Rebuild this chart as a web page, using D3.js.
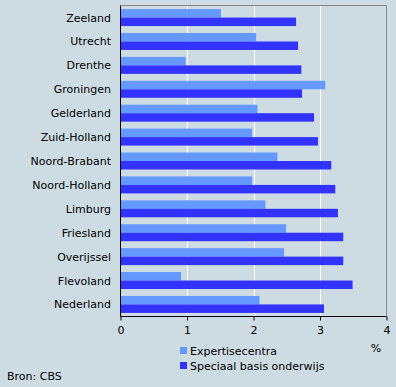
<!DOCTYPE html>
<html><head><meta charset="utf-8">
<script src="https://cdn.jsdelivr.net/npm/d3@7"></script>
<style>body{margin:0;background:#cddce2}svg{display:block}text{font-family:"DejaVu Sans",Verdana,sans-serif;font-size:11px;fill:#000}</style>
</head><body><svg id="c" width="396" height="387"></svg>
<script>
const categories=["Zeeland","Utrecht","Drenthe","Groningen","Gelderland","Zuid-Holland","Noord-Brabant","Noord-Holland","Limburg","Friesland","Overijssel","Flevoland","Nederland"];
const expertise=[1.51,2.04,0.98,3.08,2.06,1.98,2.36,1.98,2.18,2.49,2.46,0.91,2.09];
const speciaal=[2.64,2.67,2.72,2.73,2.91,2.97,3.17,3.23,3.27,3.35,3.35,3.49,3.06];
const seriesNames=["Expertisecentra","Speciaal basis onderwijs"];
const xTicks=[0,1,2,3,4];
const colors=["#6699ff","#3333ff"];

const svg=d3.select("#c");
const L=120.5,R=386.5,T=5.5,B=316.5;
svg.append("rect").attr("width",396).attr("height",387).attr("fill","#cddce2");
const x=d3.scaleLinear().domain([0,4]).range([L,R]);
const y=d3.scaleBand().domain(categories).range([T,B]).paddingInner(0.29).paddingOuter(0.15);
const sub=d3.scaleBand().domain([0,1]).range([0,y.bandwidth()]);
svg.append("g").selectAll("line").data(xTicks.slice(1,-1)).join("line")
 .attr("x1",d=>Math.round(x(d))+0.5).attr("x2",d=>Math.round(x(d))+0.5).attr("y1",T).attr("y2",B).attr("stroke","#fff").attr("stroke-width",1);
svg.append("path").attr("d",`M${L},${T}H${R}V${B}`).attr("fill","none").attr("stroke","#888");
const g=svg.append("g");
categories.forEach((c,i)=>{
 [expertise[i],speciaal[i]].forEach((v,j)=>{
  g.append("rect").attr("x",L).attr("y",y(c)+sub(j)).attr("width",x(v)-L).attr("height",sub.bandwidth()).attr("fill",colors[j]);
 });
});
svg.append("g").selectAll("text").data(categories).join("text")
 .attr("x",111).attr("y",d=>y(d)+y.bandwidth()/2+4).attr("text-anchor","end").text(d=>d);
svg.append("path").attr("d",`M${L},${T}V${B}H${R}`).attr("fill","none").attr("stroke","#000");
const xa=d3.axisBottom(x).tickValues(xTicks).tickSize(4).tickFormat(d3.format("d"));
const ax=svg.append("g").attr("transform",`translate(0,${B})`).call(xa);
ax.select(".domain").remove();
ax.selectAll("line").attr("stroke","#000");
ax.selectAll("text").attr("dy",null).attr("y",17).style("font-family","DejaVu Sans").style("font-size","11px");
svg.append("text").attr("x",376).attr("y",352).attr("text-anchor","middle").text("%");
seriesNames.forEach((n,i)=>{
 svg.append("rect").attr("x",180).attr("y",347+i*15).attr("width",7).attr("height",7).attr("fill",colors[i]);
 svg.append("text").attr("x",190).attr("y",355+i*15).text(n);
});
svg.append("text").attr("x",7).attr("y",380).text("Bron: CBS");
</script></body></html>
